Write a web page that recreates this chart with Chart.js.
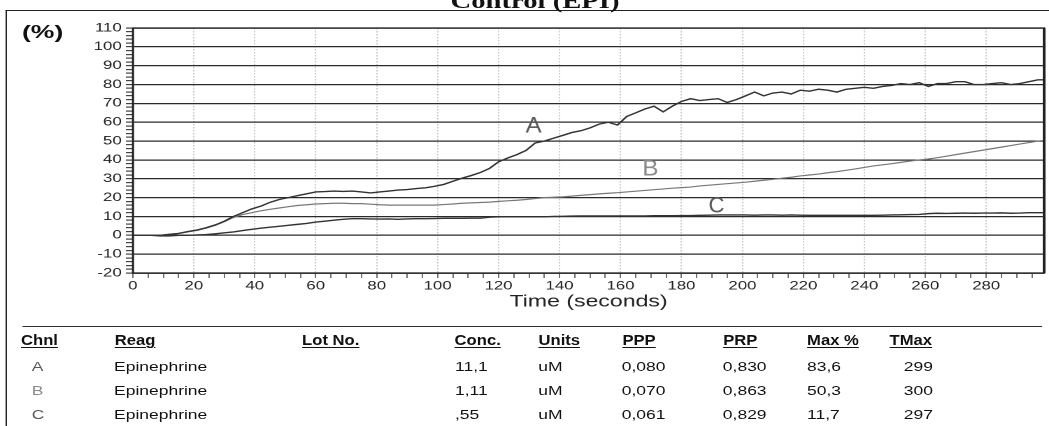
<!DOCTYPE html>
<html>
<head>
<meta charset="utf-8">
<title>Control (EPI)</title>
<script src="https://cdn.jsdelivr.net/npm/chart.js@4.4.1/dist/chart.umd.min.js"></script>
<style>
  html, body { margin: 0; padding: 0; background: #fff; }
  body { width: 1049px; height: 426px; overflow: hidden; position: relative; }
  /* the whole sheet is drawn narrow and stretched sideways, like the scan */
  #sheet { position: absolute; left: 0; top: 0; width: 750px; height: 426px;
           transform: scaleX(1.3987); transform-origin: 0 0;
           font-family: "Liberation Sans", Arial, sans-serif; color: #111; }
  #frame { position: absolute; left: 4.3px; top: 10px; width: 800px; height: 500px;
           border-left: 1.4px solid #222; border-top: 1.5px solid #222; }
  #title { position: absolute; left: 182.5px; width: 400px; top: -9.5px; text-align: center;
           font: bold 20.5px/20.5px "Liberation Serif", "Times New Roman", serif; color: #111; }
  #unit { position: absolute; left: 15.7px; top: 22px; font: bold 19px/19px "Liberation Sans", Arial, sans-serif; }
  #chart { position: absolute; left: 0; top: 0; }
  #rule { position: absolute; left: 15.7px; top: 325.5px; width: 729px; border-top: 1.5px solid #333; }
  .head { position: absolute; font: bold 14.5px/14.5px "Liberation Sans", Arial, sans-serif;
          text-decoration: underline; text-decoration-thickness: 1.4px; text-underline-offset: 2px;
          transform: scaleX(0.82); transform-origin: 0 0; white-space: nowrap; }
  .cell { position: absolute; font: 12.5px/12.5px "Liberation Sans", Arial, sans-serif; white-space: nowrap; }
</style>
</head>
<body>
<div id="sheet">
  <div id="frame"></div>
  <div id="title">Control (EPI)</div>
  <div id="unit">(%)</div>
  <canvas id="chart" width="750" height="312"></canvas>
  <div id="rule"></div>
  <div id="table"></div>
</div>
<script>
// time axis (seconds) shared by all three channels
const seconds = [
  0, 3, 6, 9, 12, 15, 18, 21, 24, 27,
  30, 33, 36, 39, 42, 45, 48, 51, 54, 57,
  60, 63, 66, 69, 72, 75, 78, 81, 84, 87,
  90, 93, 96, 99, 102, 105, 108, 111, 114, 117,
  120, 123, 126, 129, 132, 135, 138, 141, 144, 147,
  150, 153, 156, 159, 162, 165, 168, 171, 174, 177,
  180, 183, 186, 189, 192, 195, 198, 201, 204, 207,
  210, 213, 216, 219, 222, 225, 228, 231, 234, 237,
  240, 243, 246, 249, 252, 255, 258, 261, 264, 267,
  270, 273, 276, 279, 282, 285, 288, 291, 294, 297,
  299
];

// aggregation (%)
const channelA = [
  0, 0, 0, 0, 0.5, 1, 2, 2.8, 4, 5.5,
  7.5, 10, 12, 14, 15.5, 17.5, 19, 20, 21, 22,
  23, 23.2, 23.5, 23.3, 23.5, 23, 22.5, 23, 23.5, 24,
  24.3, 24.8, 25.2, 26, 27, 28.7, 30.3, 31.7, 33.3, 35.5,
  39, 41, 42.8, 45, 49, 50, 51.5, 53, 54.5, 55.5,
  57, 59, 60, 58.5, 63, 65, 67, 68.5, 65.5, 68.5,
  71, 72.5, 71.5, 72, 72.5, 70.5, 72, 74, 76, 74,
  75.5, 76, 75, 77, 76.5, 77.5, 77, 76, 77.5, 78,
  78.5, 78, 79, 79.5, 80.5, 80, 81, 79, 80.5, 80.5,
  81.5, 81.5, 80, 80, 80.5, 81, 80, 80.5, 81.5, 82.5,
  82.5
];
const channelB = [
  0, 0, 0, 0, 0.5, 1, 1.8, 2.6, 3.8, 5.3,
  7.2, 9.5, 11, 12, 13, 13.8, 14.5, 15.2, 15.8, 16.2,
  16.6, 16.8, 17, 17, 16.8, 16.8, 16.5, 16.2, 16, 16,
  16, 16, 16, 16, 16.3, 16.6, 17, 17.2, 17.4, 17.6,
  18, 18.3, 18.6, 19, 19.5, 20, 20.2, 20.4, 20.8, 21.2,
  21.6, 22, 22.3, 22.6, 23, 23.4, 23.8, 24.2, 24.6, 25,
  25.3, 25.6, 26.2, 26.6, 27, 27.4, 27.8, 28.2, 28.7, 29.2,
  29.7, 30.3, 30.8, 31.5, 32, 32.5, 33.2, 33.8, 34.5, 35.2,
  36, 36.8, 37.4, 38, 38.7, 39.4, 40, 40.5, 41.2, 42,
  42.8, 43.6, 44.4, 45.2, 46, 46.8, 47.6, 48.4, 49.2, 50,
  50.3
];
const channelC = [
  0, 0, 0, -0.3, -0.3, 0, 0, 0.2, 0.4, 0.8,
  1.3, 1.8, 2.5, 3.2, 3.8, 4.3, 4.8, 5.3, 5.8, 6.3,
  7, 7.5, 8, 8.5, 8.8, 8.8, 8.7, 8.6, 8.7, 8.5,
  8.7, 8.8, 8.8, 8.9, 9, 9, 9, 9.1, 9.1, 9.6,
  9.8, 9.8, 9.8, 9.8, 9.8, 9.8, 10, 10.1, 10.2, 10.3,
  10.3, 10.3, 10.3, 10.3, 10.3, 10.3, 10.3, 10.4, 10.4, 10.4,
  10.5, 10.5, 10.6, 10.7, 10.8, 10.8, 10.8, 10.8, 10.7, 10.8,
  10.8, 10.7, 10.8, 10.7, 10.6, 10.6, 10.6, 10.6, 10.6, 10.6,
  10.6, 10.6, 10.7, 10.8, 10.9, 11, 11.1, 11.5, 11.7, 11.6,
  11.7, 11.8, 11.7, 11.8, 11.8, 11.9, 11.7, 11.8, 12, 12,
  12
];

// axis ranges
const timeRange = [0, 299];
const percentRange = [-20, 110];

// channel tags written on the plot, at (seconds, %)
const curveNames = ['A', 'B', 'C'];
const tagSeconds = [131.5, 169.8, 191.5];
const tagPercent = [57.8, 35, 15.4];

// results table
const headers = ['Chnl', 'Reag', 'Lot No.', 'Conc.', 'Units', 'PPP', 'PRP', 'Max %', 'TMax'];
const reagents = ['Epinephrine', 'Epinephrine', 'Epinephrine'];
const concentrations = ['11,1', '1,11', ',55'];
const units = ['uM', 'uM', 'uM'];
const ppp = ['0,080', '0,070', '0,061'];
const prp = ['0,830', '0,863', '0,829'];
const maxPercent = ['83,6', '50,3', '11,7'];
const tMax = ['299', '300', '297'];

const lineColors = ['#333333', '#777777', '#333333'];
const tagColors = ['#5a5a5a', '#8a8a8a', '#5a5a5a'];
const FONT = '"Liberation Sans", Arial, sans-serif';

const curveTags = {
  id: 'curveTags',
  afterDatasetsDraw(chart) {
    const {ctx, scales: {x, y}} = chart;
    ctx.save();
    ctx.font = '22px ' + FONT;
    ctx.textAlign = 'center';
    ctx.textBaseline = 'middle';
    curveNames.forEach((name, i) => {
      ctx.fillStyle = tagColors[i];
      ctx.fillText(name, x.getPixelForValue(tagSeconds[i]), y.getPixelForValue(tagPercent[i]), 11.5);
    });
    ctx.restore();
  }
};

const plotFrame = {
  id: 'plotFrame',
  afterDraw(chart) {
    const {ctx, chartArea: a} = chart;
    ctx.save();
    ctx.strokeStyle = '#222';
    ctx.lineWidth = 1.3;
    ctx.strokeRect(a.left, a.top, a.right - a.left, a.bottom - a.top);
    ctx.lineWidth = 2;
    ctx.beginPath();
    ctx.moveTo(a.right, a.top);
    ctx.lineTo(a.right, a.bottom);
    ctx.stroke();
    ctx.restore();
  }
};

const ctx = document.getElementById('chart').getContext('2d');
const chart = new Chart(ctx, {
  type: 'line',
  data: {
    labels: seconds,
    datasets: [channelA, channelB, channelC].map((values, i) => ({
      label: curveNames[i],
      data: values,
      borderColor: lineColors[i],
      borderWidth: i === 1 ? 1.2 : 1.4,
      pointRadius: 0,
      tension: 0,
      fill: false
    }))
  },
  options: {
    responsive: false,
    animation: false,
    devicePixelRatio: 2,
    layout: { padding: { left: 0, top: 28, right: 3.5, bottom: 0 } },
    plugins: {
      legend: { display: false },
      tooltip: { enabled: false }
    },
    scales: {
      x: {
        type: 'linear',
        min: timeRange[0],
        max: timeRange[1],
        afterFit: (scale) => { scale.height = 39; },
        ticks: {
          stepSize: 5,
          includeBounds: false,
          autoSkip: false,
          maxRotation: 0,
          padding: 1,
          color: '#222',
          font: { family: FONT, size: 12 },
          callback: (v) => v % 20 === 0 ? v : ''
        },
        grid: {
          color: (c) => c.tick && c.tick.value % 20 === 0 && c.tick.value > 0 ? '#b3b3b3' : 'rgba(0,0,0,0)',
          lineWidth: 0.7,
          tickColor: '#333',
          tickLength: 5
        },
        border: { color: '#222', width: 1.3, dash: [1.5, 1.5] },
        title: {
          display: true,
          text: 'Time (seconds)',
          color: '#222',
          font: { family: FONT, size: 16.5 },
          padding: 0
        }
      },
      y: {
        min: percentRange[0],
        max: percentRange[1],
        afterFit: (scale) => { scale.width = 95; },
        ticks: {
          stepSize: 2,
          autoSkip: false,
          padding: 3,
          color: '#222',
          font: { family: FONT, size: 12 },
          callback: (v) => v % 10 === 0 ? v : ''
        },
        grid: {
          color: (c) => c.tick && c.tick.value % 10 === 0 ? '#2a2a2a' : 'rgba(0,0,0,0)',
          lineWidth: 1.2,
          tickColor: '#444',
          tickLength: 5
        },
        border: { color: '#222', width: 1.3 }
      }
    }
  },
  plugins: [curveTags, plotFrame]
});

// table under the chart
const table = document.getElementById('table');
const colLeft = [14.8, 81.5, 215.7, 325.3, 384.9, 444.5, 516.8, 577.0, 636.3];
const headTop = 332.7;
const rowTop = [361.4, 385.4, 409.4];
const chnlLeft = 22.7;
const tmaxRight = 667;

function put(cls, text, left, top, extra) {
  const el = document.createElement('div');
  el.className = cls;
  el.textContent = text;
  el.style.left = left + 'px';
  el.style.top = top + 'px';
  if (extra) Object.assign(el.style, extra);
  table.appendChild(el);
  return el;
}

headers.forEach((h, i) => put('head', h, colLeft[i], headTop));
curveNames.forEach((name, r) => {
  const top = rowTop[r];
  put('cell', name, chnlLeft, top, { color: tagColors[r] });
  put('cell', reagents[r], colLeft[1], top);
  put('cell', concentrations[r], colLeft[3], top);
  put('cell', units[r], colLeft[4], top);
  put('cell', ppp[r], colLeft[5], top);
  put('cell', prp[r], colLeft[6], top);
  put('cell', maxPercent[r], colLeft[7], top);
  put('cell', tMax[r], tmaxRight - 60, top, { width: '60px', textAlign: 'right' });
});
</script>
</body>
</html>
